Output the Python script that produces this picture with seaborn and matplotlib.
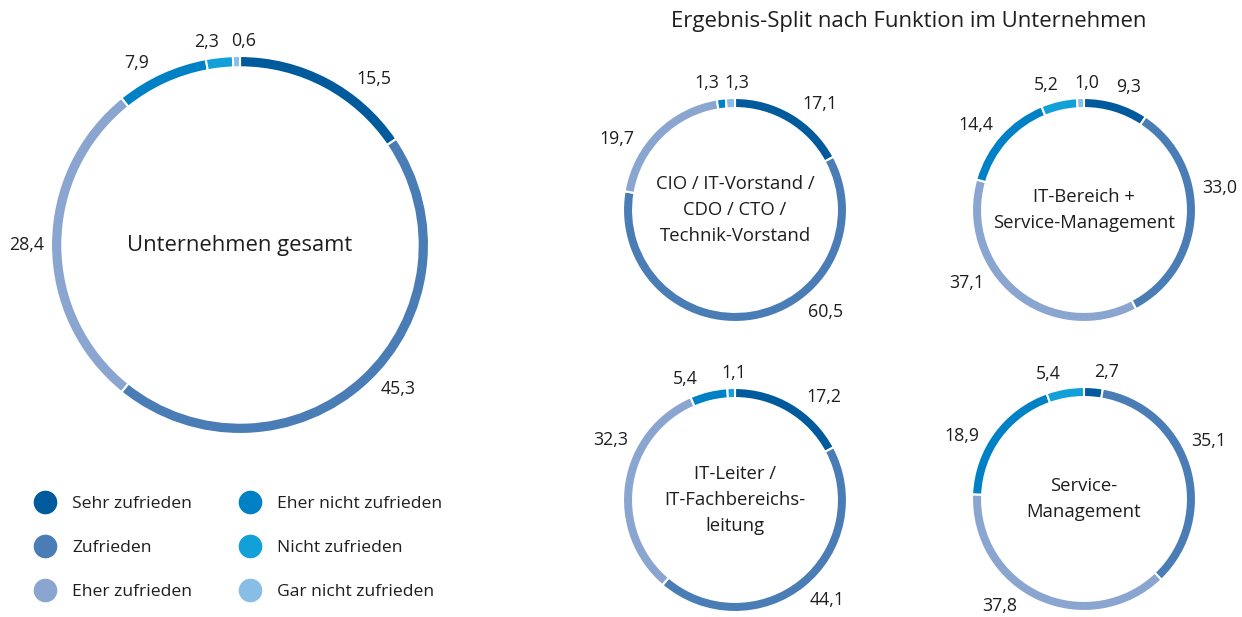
import numpy as np
import matplotlib.pyplot as plt
import seaborn as sns
from matplotlib.lines import Line2D

# Kategorien und Werte (in %)
categories = ["Sehr zufrieden", "Zufrieden", "Eher zufrieden",
              "Eher nicht zufrieden", "Nicht zufrieden", "Gar nicht zufrieden"]
gesamt = [15.5, 45.3, 28.4, 7.9, 2.3, 0.6]
cio = [17.1, 60.5, 19.7, 1.3, 0.0, 1.3]
it_bereich = [9.3, 33.0, 37.1, 14.4, 5.2, 1.0]
it_leiter = [17.2, 44.1, 32.3, 5.4, 1.1, 0.0]
service = [2.7, 35.1, 37.8, 18.9, 5.4, 0.0]

# Verschiebung der Beschriftungen (Grad, relativ zur Segmentmitte)
gesamt_shift = [-11, 5, 0, 5, 3, -2]
cio_shift = [-8, 32, 14, 5, 0, -3.5]
it_bereich_shift = [-3, 12, -19, 3.5, 4, -3]
it_leiter_shift = [-10, 4, -17, 9, -1, 0]
service_shift = [-5, 8, -14, 9, 6, 0]

palette = sns.color_palette(["#005a9c", "#4a7db5", "#8aa6d0",
                             "#0081c6", "#12a0d8", "#88bde6"])

sns.set_theme(style="white")
plt.rcParams["font.family"] = ["Open Sans", "DejaVu Sans"]
TXT = "#1e1e1e"

W, H = 1242, 617
fig = plt.figure(figsize=(W / 100, H / 100), dpi=100)


def fmt(v):
    return f"{v:.1f}".replace(".", ",")


def donut(cx, cy, r, values, shifts, title, ring, title_size):
    ax = fig.add_axes([(cx - r) / W, 1 - (cy + r) / H, 2 * r / W, 2 * r / H])
    keep = [i for i, v in enumerate(values) if v > 0]
    vals = [values[i] for i in keep]
    cols = [palette[i] for i in keep]
    ax.pie(vals, colors=cols, startangle=90, counterclock=False, radius=1,
           wedgeprops=dict(width=ring, edgecolor="white", linewidth=1.5))
    # Beschriftungen ausserhalb des Rings
    start = 0.0
    for i, v in zip(keep, vals):
        ang = np.deg2rad(90 - 3.6 * (start + v / 2) + shifts[i])
        start += v
        txt = fmt(v)
        w, h = 8.5 * len(txt), 16
        d = (r + 7 + abs(np.cos(ang)) * w / 2 + abs(np.sin(ang)) * h / 2) / r
        ax.text(d * np.cos(ang), d * np.sin(ang), txt, ha="center",
                va="center", fontsize=12.8, color=TXT, clip_on=False)
    ax.set_xlim(-1, 1)
    ax.set_ylim(-1, 1)
    ax.set_aspect("equal")
    ax.axis("off")
    ax.text(0, 0, title, ha="center", va="center", fontsize=title_size,
            color=TXT, linespacing=1.55)


donut(240, 245, 189, gesamt, gesamt_shift, "Unternehmen gesamt", 0.06, 15.8)
donut(735, 210, 112, cio, cio_shift,
      "CIO / IT-Vorstand /\nCDO / CTO /\nTechnik-Vorstand", 0.09, 13.3)
donut(1084, 210, 112, it_bereich, it_bereich_shift,
      "IT-Bereich +\nService-Management", 0.09, 13.3)
donut(735, 500, 112, it_leiter, it_leiter_shift,
      "IT-Leiter /\nIT-Fachbereichs-\nleitung", 0.09, 13.3)
donut(1084, 499, 112, service, service_shift,
      "Service-\nManagement", 0.09, 13.3)

fig.text(909 / W, 1 - 21 / H, "Ergebnis-Split nach Funktion im Unternehmen",
         ha="center", va="center", fontsize=15.9, color=TXT)

handles = [Line2D([], [], marker="o", linestyle="", markersize=16,
                  markerfacecolor=c, markeredgecolor=c) for c in palette]
fig.legend(handles, categories, ncol=2, loc="upper left",
           bbox_to_anchor=(19 / W, 1 - 480 / H), frameon=False,
           fontsize=12.6, labelspacing=1.6, columnspacing=2.7,
           handletextpad=0.95, handlelength=1.2, labelcolor=TXT)

fig.savefig("out.png", dpi=100)
